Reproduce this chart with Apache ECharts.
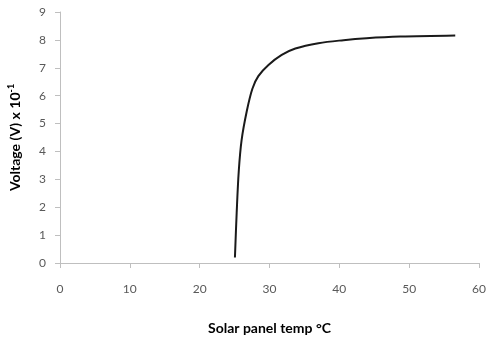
<!DOCTYPE html>
<html>
<head>
<meta charset="utf-8">
<script src="https://cdn.jsdelivr.net/npm/echarts@6/dist/echarts.min.js"></script>
<style>
    html, body { margin: 0; padding: 0; background: #fff; }
    #chart { width: 488px; height: 338px; }
</style>
</head>
<body>
<div id="chart"></div>
<script>
// temperature (deg C) and voltage (x 10^-1 V)
var temps = [25.05, 25.3, 25.6, 26.0, 26.75, 27.55, 28.4, 29.85, 31.75, 33.7, 37.0, 40.6, 43.9, 48.7, 56.6];
var volts = [0.2, 1.8, 3.3, 4.4, 5.45, 6.25, 6.7, 7.1, 7.46, 7.69, 7.88, 7.99, 8.06, 8.12, 8.16];

var xTicks = [0, 10, 20, 30, 40, 50, 60];
var yTicks = [0, 1, 2, 3, 4, 5, 6, 7, 8, 9];

var points = temps.map(function (t, i) {
    return [t, volts[i]];
});

var chart = echarts.init(document.getElementById('chart'));

var option = {
    animation: false,
    textStyle: { fontFamily: 'Lato, "Open Sans", sans-serif' },
    grid: {
        left: 60,
        right: 9,
        top: 12,
        bottom: 75,
        containLabel: false,
        outerBoundsMode: 'none'
    },
    xAxis: {
        type: 'value',
        min: xTicks[0],
        max: xTicks[xTicks.length - 1],
        interval: 10,
        name: 'Solar panel temp °C',
        nameLocation: 'middle',
        nameGap: 58,
        nameTextStyle: { fontSize: 14, fontWeight: 'bold', color: '#000' },
        axisLine: { show: true, lineStyle: { color: '#bfbfbf', width: 1 } },
        axisTick: { show: true, inside: false, length: 5, lineStyle: { color: '#bfbfbf' } },
        axisLabel: { color: '#595959', fontSize: 12, margin: 20 },
        splitLine: { show: false }
    },
    yAxis: {
        type: 'value',
        min: yTicks[0],
        max: yTicks[yTicks.length - 1],
        interval: 1,
        name: '{t|Voltage (V) x 10}{s|-1}',
        nameLocation: 'middle',
        nameGap: 36,
        nameRotate: 90,
        nameTextStyle: {
            rich: {
                t: { fontSize: 14, fontWeight: 'bold', color: '#000', fontFamily: 'Lato, sans-serif' },
                s: { fontSize: 9, fontWeight: 'bold', color: '#000', fontFamily: 'Lato, sans-serif', verticalAlign: 'top', padding: [0, 0, 8, 0] }
            }
        },
        axisLine: { show: true, lineStyle: { color: '#bfbfbf', width: 1 } },
        axisTick: { show: true, inside: false, length: 5, lineStyle: { color: '#bfbfbf' } },
        axisLabel: { color: '#595959', fontSize: 12, margin: 14 },
        splitLine: { show: false }
    },
    series: [
        {
            type: 'line',
            data: points,
            smooth: 0.35,
            showSymbol: false,
            lineStyle: { color: '#1a1a1a', width: 2 }
        }
    ]
};

chart.setOption(option);
</script>
</body>
</html>
